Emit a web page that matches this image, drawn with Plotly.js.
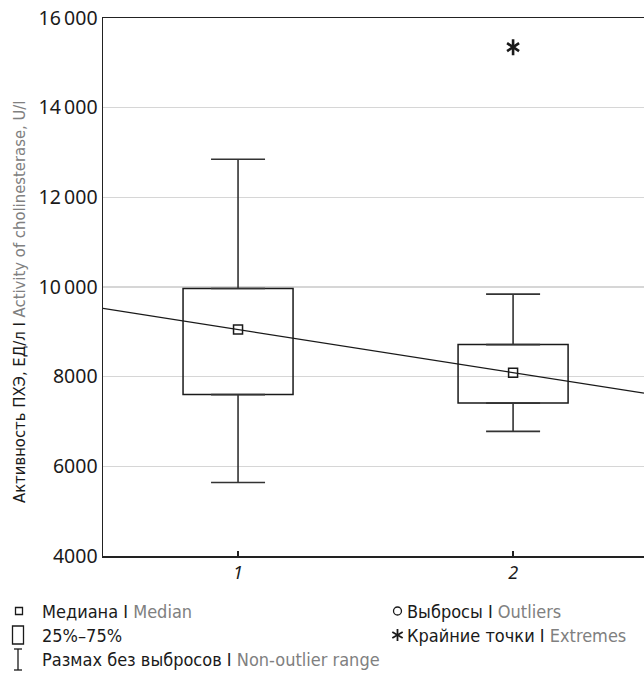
<!DOCTYPE html>
<html>
<head>
<meta charset="utf-8">
<script src="https://cdn.plot.ly/plotly-3.0.1.min.js"></script>
<style>html,body{margin:0;padding:0;background:#fff;}#chart{width:644px;height:677px;}</style>
</head>
<body>
<div id="chart"></div>
<script>
// ---- data ----
var groups = [1, 2];
var groupLabels = ["1", "2"];
var q1 = [7600, 7410];
var median = [9050, 8090];
var q3 = [9965, 8715];
var whiskerLow = [5640, 6780];
var whiskerHigh = [12850, 9840];
var extremeX = [2];
var extremeY = [15350];
var yTickVals = [4000, 6000, 8000, 10000, 12000, 14000, 16000];
var yTickText = ["4000", "6000", "8000", "10\u2009000", "12\u2009000", "14\u2009000", "16\u2009000"];
var xRange = [0.509, 2.476];
var yRange = [4000, 16000];

// trend line through medians, extended across the axis range
var slope = (median[1] - median[0]) / (groups[1] - groups[0]);
var trendX = [xRange[0], xRange[1]];
var trendY = trendX.map(function (x) { return median[0] + slope * (x - groups[0]); });

var FONT_N = "'DejaVu Sans Condensed', 'Roboto', sans-serif";
var FONT_T = "'Noto Sans', 'Open Sans', sans-serif";
var GRAY = "#808080";
var INK = "#1a1a1a";

var traces = [
  { // boxes 25%-75%
    type: 'bar', x: groups, base: q1,
    y: q3.map(function (v, i) { return v - q1[i]; }),
    width: 0.4,
    marker: { color: 'rgba(0,0,0,0)', line: { color: INK, width: 1.5 } },
    hoverinfo: 'skip', showlegend: false
  },
  { // upper whiskers
    type: 'scatter', mode: 'markers', x: groups, y: q3,
    marker: { size: 1, color: 'rgba(0,0,0,0)' },
    error_y: { type: 'data', symmetric: false,
      array: whiskerHigh.map(function (v, i) { return v - q3[i]; }),
      arrayminus: q3.map(function () { return 0; }),
      width: 27, thickness: 1.6, color: '#333' },
    hoverinfo: 'skip', showlegend: false
  },
  { // lower whiskers
    type: 'scatter', mode: 'markers', x: groups, y: q1,
    marker: { size: 1, color: 'rgba(0,0,0,0)' },
    error_y: { type: 'data', symmetric: false,
      array: q1.map(function () { return 0; }),
      arrayminus: q1.map(function (v, i) { return v - whiskerLow[i]; }),
      width: 27, thickness: 1.6, color: '#333' },
    hoverinfo: 'skip', showlegend: false
  },
  { // trend line
    type: 'scatter', mode: 'lines', x: trendX, y: trendY,
    line: { color: INK, width: 1.3 }, hoverinfo: 'skip', showlegend: false
  },
  { // medians
    type: 'scatter', mode: 'markers', x: groups, y: median,
    marker: { symbol: 'square-open', size: 9, color: INK, line: { width: 1.5, color: INK } },
    showlegend: false
  },
  { // extremes (asterisk = y-up + y-down)
    type: 'scatter', mode: 'markers', x: extremeX, y: extremeY,
    marker: { symbol: 'y-up-open', size: 10, line: { width: 2.6, color: INK }, color: INK },
    showlegend: false
  },
  {
    type: 'scatter', mode: 'markers', x: extremeX, y: extremeY,
    marker: { symbol: 'y-down-open', size: 10, line: { width: 2.6, color: INK }, color: INK },
    showlegend: false
  }
];

// legend (pixel placement relative to plot bottom-left)
var PL = 103, PB = 556;
function ann(px, py, text) {
  return { xref: 'paper', yref: 'paper', x: 0, y: 0, xanchor: 'left', yanchor: 'middle',
    xshift: px - PL, yshift: -(py - PB), showarrow: false, text: text,
    font: { family: FONT_N, size: 18, color: INK } };
}
function shp(type, x0, y0, x1, y1, extra) {
  var s = { type: type, xref: 'paper', yref: 'paper', xsizemode: 'pixel', ysizemode: 'pixel',
    xanchor: 0, yanchor: 0,
    x0: x0 - PL, x1: x1 - PL, y0: PB - y0, y1: PB - y1,
    line: { color: INK, width: 1.3 }, fillcolor: 'rgba(0,0,0,0)' };
  for (var k in extra) s[k] = extra[k];
  return s;
}
var R1 = 611, R2 = 635, R3 = 659;
var annotations = [
  ann(40, R1, "Медиана I <span style='color:" + GRAY + "'>Median</span>"),
  ann(40, R2, "25%–75%"),
  ann(40, R3, "Размах без выбросов I <span style='color:" + GRAY + "'>Non-outlier range</span>"),
  ann(405, R1, "Выбросы I <span style='color:" + GRAY + "'>Outliers</span>"),
  ann(405, R2, "Крайние точки I <span style='color:" + GRAY + "'>Extremes</span>"),
  { // y-axis title
    xref: 'paper', yref: 'paper', x: 0, y: 0, xanchor: 'center', yanchor: 'middle',
    xshift: 19 - PL, yshift: PB - 302, textangle: -90, showarrow: false,
    text: "Активность ПХЭ, ЕД/л I <span style='color:" + GRAY + "'>Activity of cholinesterase, U/l</span>",
    font: { family: FONT_N, size: 16.5, color: INK }
  }
];
var shapes = [
  shp('rect', 15.5, R1 - 3.5, 22.5, R1 + 3.5),
  shp('rect', 12.5, R2 - 9, 23.5, R2 + 9),
  shp('line', 18, R3 - 10, 18, R3 + 11),
  shp('line', 14, R3 - 10, 22, R3 - 10),
  shp('line', 14, R3 + 11, 22, R3 + 11),
  shp('circle', 393.5, R1 - 4, 401.5, R1 + 4),
  shp('line', 397.5, R2 - 6, 397.5, R2 + 6, { line: { color: INK, width: 1.8 } }),
  shp('line', 392.3, R2 - 3, 402.7, R2 + 3, { line: { color: INK, width: 1.8 } }),
  shp('line', 392.3, R2 + 3, 402.7, R2 - 3, { line: { color: INK, width: 1.8 } })
];

var layout = {
  width: 644, height: 677,
  margin: { l: 103, r: 0, t: 18, b: 121 },
  paper_bgcolor: '#fff', plot_bgcolor: '#fff',
  showlegend: false,
  xaxis: {
    range: xRange, tickvals: groups, ticktext: groupLabels,
    ticks: 'inside', ticklen: 5, tickwidth: 1.3, tickcolor: '#222',
    showgrid: false, zeroline: false,
    showline: true, mirror: true, linecolor: '#222', linewidth: 1.5,
    tickfont: { family: FONT_T, size: 18, color: INK, style: 'italic' },
    fixedrange: true
  },
  yaxis: {
    range: yRange, tickvals: yTickVals, ticktext: yTickText,
    ticks: '', showgrid: true, gridcolor: '#d6d6d6', gridwidth: 1.2,
    zeroline: false, showline: true, mirror: false, linecolor: '#222', linewidth: 1.5,
    tickfont: { family: FONT_T, size: 19.5, color: INK },
    fixedrange: true
  },
  annotations: annotations,
  shapes: shapes
};

Plotly.newPlot('chart', traces, layout, { displayModeBar: false, staticPlot: true });
</script>
</body>
</html>
